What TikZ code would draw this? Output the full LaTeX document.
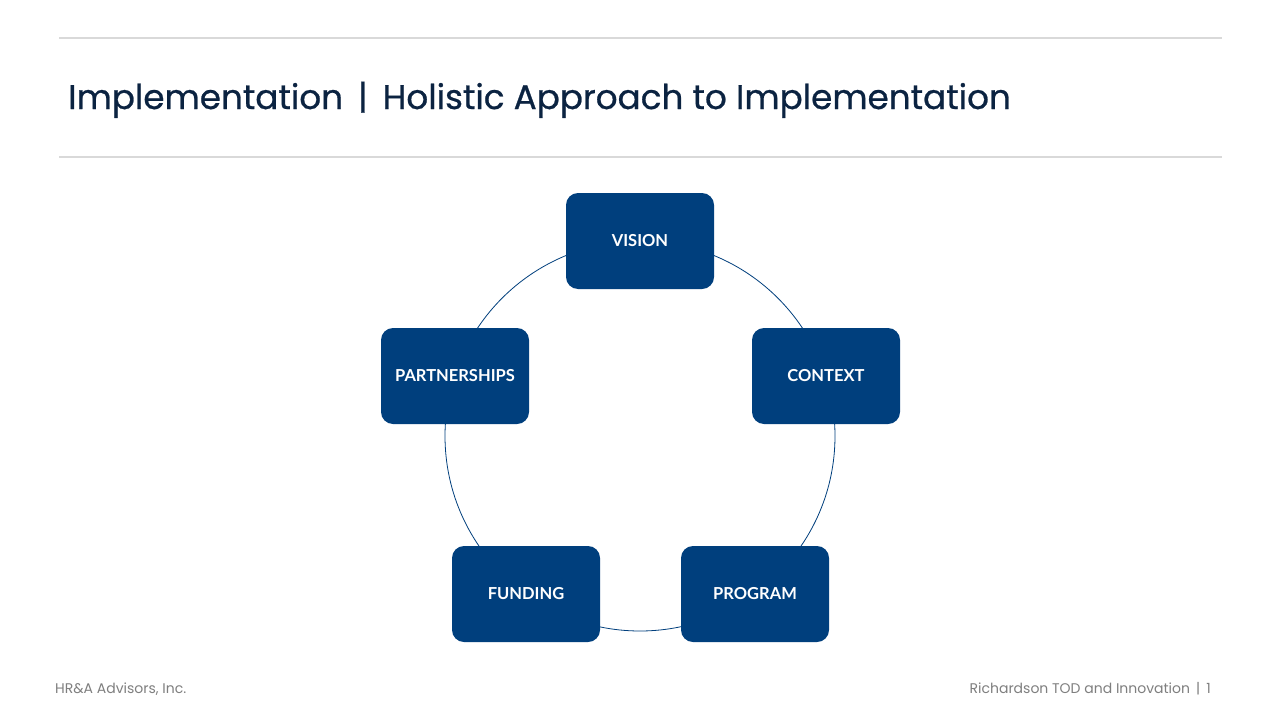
\documentclass[tikz,border=0pt]{standalone}
\usepackage{fontspec}
\setmainfont{Poppins}
\newfontfamily\titlefont[FakeBold=0.7]{Poppins}
\newfontfamily\boxfont{Lato}
\definecolor{navy}{HTML}{0B2341}
\definecolor{boxblue}{HTML}{003F7D}
\definecolor{rulegray}{HTML}{D9D9D9}
\definecolor{footgray}{HTML}{7F7F7F}
\begin{document}
\begin{tikzpicture}[x=1pt,y=-1pt,
  stepbox/.style={draw=none,fill=boxblue,rounded corners=12pt,minimum width=148pt,minimum height=96pt,inner sep=0pt,text=white,font=\boxfont\bfseries\fontsize{16.5}{20}\selectfont},
  rulestyle/.style={draw=rulegray,line width=2pt},
  ring/.style={draw=boxblue,line width=0.8pt}]
\useasboundingbox (0,0) rectangle (1280,720);
\fill[white] (0,0) rectangle (1280,720);
\coordinate (r1a) at (59,38); \coordinate (r1b) at (1222,38);
\coordinate (r2a) at (59,157); \coordinate (r2b) at (1222,157);
\draw[rulestyle] (r1a) -- (r1b);
\draw[rulestyle] (r2a) -- (r2b);
\node[anchor=base west,inner sep=0pt,text=navy,font=\titlefont\fontsize{34.2}{40}\selectfont] (title) at (68,109) {Implementation \,|\, Holistic Approach to Implementation};
\coordinate (c) at (640,436);
\draw[ring] (c) circle[radius=195pt];
\node[stepbox] (vision) at (640,241) {VISION};
\node[stepbox] (context) at (826,376) {CONTEXT};
\node[stepbox] (program) at (755,594) {PROGRAM};
\node[stepbox] (funding) at (526,594) {FUNDING};
\node[stepbox] (partner) at (455,376) {PARTNERSHIPS};
\node[anchor=base west,inner sep=0pt,text=footgray,font=\fontsize{14}{16}\selectfont] (foot1) at (55,693) {HR\&A Advisors, Inc.};
\node[anchor=base east,inner sep=0pt,text=footgray,font=\fontsize{14}{16}\selectfont] (foot2) at (1211,693) {Richardson TOD and Innovation \,|\, 1};
\end{tikzpicture}
\end{document}
